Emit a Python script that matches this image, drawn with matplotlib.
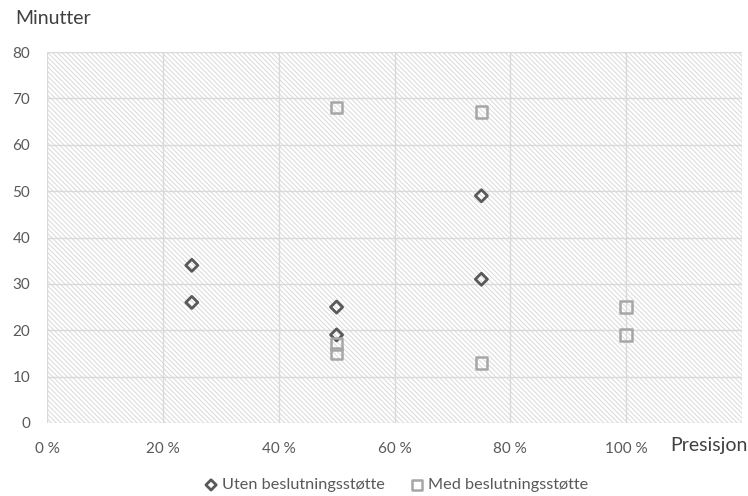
import matplotlib
matplotlib.use("Agg")
import matplotlib.pyplot as plt
from matplotlib.patches import Rectangle

plt.rcParams['font.family'] = ['Lato', 'DejaVu Sans']
plt.rcParams['hatch.linewidth'] = 0.7
plt.rcParams['hatch.color'] = '#d9d9d9'

# presisjon (%) og minutter
uten_x = [25, 25, 50, 50, 75, 75]
uten_y = [34, 26, 25, 19, 49, 31]
med_x = [50, 50, 50, 75, 75, 100, 100]
med_y = [68, 17, 15, 67, 13, 25, 19]

xticks = [0, 20, 40, 60, 80, 100, 120]
xlabels = ['0 %', '20 %', '40 %', '60 %', '80 %', '100 %', '']
yticks = [0, 10, 20, 30, 40, 50, 60, 70, 80]

txt = '#595959'
fig = plt.figure(figsize=(7.48, 4.96), dpi=100)
ax = fig.add_axes([47 / 748, 1 - 423 / 496, 695 / 748, 371 / 496])

ax.add_patch(Rectangle((0, 0), 1, 1, transform=ax.transAxes, facecolor='white',
                       hatch='\\' * 7, edgecolor='#d9d9d9', linewidth=0, zorder=0))

ax.set_xlim(0, 120)
ax.set_ylim(0, 80)
ax.set_xticks(xticks)
ax.set_xticklabels(xlabels)
ax.set_yticks(yticks)
ax.grid(True, color='#d9d9d9', linewidth=1.0, zorder=1)
for s in ax.spines.values():
    s.set_visible(False)
ax.tick_params(length=0, labelsize=11, labelcolor=txt)
ax.tick_params(axis='x', pad=14)
ax.tick_params(axis='y', pad=12)

ax.scatter(uten_x, uten_y, marker='D', s=38, facecolor='none', edgecolor='#595959',
           linewidths=2, zorder=3, label='Uten beslutningsstøtte')
ax.scatter(med_x, med_y, marker='s', s=70, facecolor='none', edgecolor='#a6a6a6',
           linewidths=1.8, zorder=3, label='Med beslutningsstøtte')

fig.text(15 / 748, 1 - 18 / 496, 'Minutter', fontsize=14, color='#404040', va='center')
fig.text(670 / 748, 1 - 446 / 496, 'Presisjon', fontsize=14, color='#404040', va='center')

leg = ax.legend(loc='center', bbox_to_anchor=(397 / 748, 1 - 485 / 496), bbox_transform=fig.transFigure,
                ncol=2, frameon=False, fontsize=11.7, handlelength=0.7, handletextpad=0.35,
                columnspacing=1.6, markerscale=0.85, borderpad=0)
for t in leg.get_texts():
    t.set_color(txt)

fig.savefig('out.png', dpi=100)
